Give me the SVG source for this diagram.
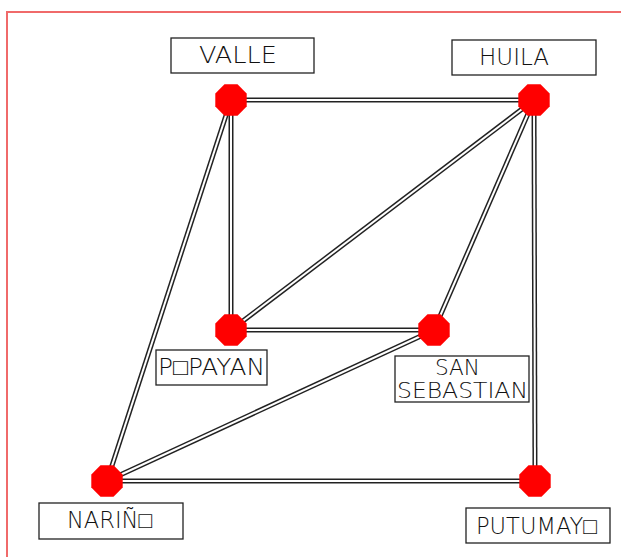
<svg xmlns="http://www.w3.org/2000/svg" width="621" height="557" viewBox="0 0 621 557">
  <defs>
    <style>
      .frame { fill: none; stroke: #f06a6a; stroke-width: 2; }
      .rail { fill: none; stroke: #222; stroke-width: 5; stroke-linecap: butt; }
      .gap { fill: none; stroke: #fff; stroke-width: 2; stroke-linecap: butt; }
      .box { fill: #fff; stroke: #222; stroke-width: 1.3; }
      .lbl { font-family: "DejaVu Sans", "Liberation Sans", sans-serif; font-weight: 200; font-size: 23px; fill: #111; }
      .sm { font-size: 21px; }
      .node { fill: #ff0000; }
    </style>
    <!-- flat-topped octagon, radius 17 -->
    <polygon id="oct" class="node" points="15.7,6.5 6.5,15.7 -6.5,15.7 -15.7,6.5 -15.7,-6.5 -6.5,-15.7 6.5,-15.7 15.7,-6.5"/>
  </defs>

  <rect width="621" height="557" fill="#fff"/>
  <path class="frame" d="M7,557 V12 H621"/>

  <g id="connectors">
    <g class="rail">
      <line x1="231" y1="100" x2="534" y2="100"/>
      <line x1="231" y1="100" x2="231" y2="330"/>
      <line x1="231" y1="100" x2="107" y2="481"/>
      <line x1="534" y1="100" x2="231" y2="330"/>
      <line x1="534" y1="100" x2="434" y2="330"/>
      <line x1="534" y1="100" x2="535" y2="481"/>
      <line x1="231" y1="330" x2="434" y2="330"/>
      <line x1="434" y1="330" x2="107" y2="481"/>
      <line x1="107" y1="481" x2="535" y2="481"/>
    </g>
    <g class="gap">
      <line x1="231" y1="100" x2="534" y2="100"/>
      <line x1="231" y1="100" x2="231" y2="330"/>
      <line x1="231" y1="100" x2="107" y2="481"/>
      <line x1="534" y1="100" x2="231" y2="330"/>
      <line x1="534" y1="100" x2="434" y2="330"/>
      <line x1="534" y1="100" x2="535" y2="481"/>
      <line x1="231" y1="330" x2="434" y2="330"/>
      <line x1="434" y1="330" x2="107" y2="481"/>
      <line x1="107" y1="481" x2="535" y2="481"/>
    </g>
  </g>

  <g id="valle">
    <use href="#oct" x="231" y="100"/>
    <rect class="box" x="171" y="38" width="143" height="35"/>
    <text class="lbl" x="199" y="63" textLength="78" lengthAdjust="spacingAndGlyphs">VALLE</text>
  </g>

  <g id="huila">
    <use href="#oct" x="534" y="100"/>
    <rect class="box" x="452" y="40" width="144" height="35"/>
    <text class="lbl" x="479" y="65" textLength="70" lengthAdjust="spacingAndGlyphs">HUILA</text>
  </g>

  <g id="popayan">
    <use href="#oct" x="231" y="330"/>
    <rect class="box" x="156" y="350" width="111" height="35"/>
    <text class="lbl" x="158" y="375" textLength="107" lengthAdjust="spacingAndGlyphs">P□PAYAN</text>
  </g>

  <g id="san-sebastian">
    <use href="#oct" x="434" y="330"/>
    <rect class="box" x="395" y="356" width="134" height="46"/>
    <text class="lbl sm" x="435" y="375" textLength="45" lengthAdjust="spacingAndGlyphs">SAN</text>
    <text class="lbl sm" x="397" y="398" textLength="131" lengthAdjust="spacingAndGlyphs">SEBASTIAN</text>
  </g>

  <g id="narino">
    <use href="#oct" x="107" y="481"/>
    <rect class="box" x="39" y="503" width="144" height="36"/>
    <text class="lbl" x="67" y="528" textLength="85" lengthAdjust="spacingAndGlyphs">NARIÑ□</text>
  </g>

  <g id="putumayo">
    <use href="#oct" x="535" y="481"/>
    <rect class="box" x="466" y="508" width="144" height="35"/>
    <text class="lbl" x="476" y="534" textLength="121" lengthAdjust="spacingAndGlyphs">PUTUMAY□</text>
  </g>
</svg>
